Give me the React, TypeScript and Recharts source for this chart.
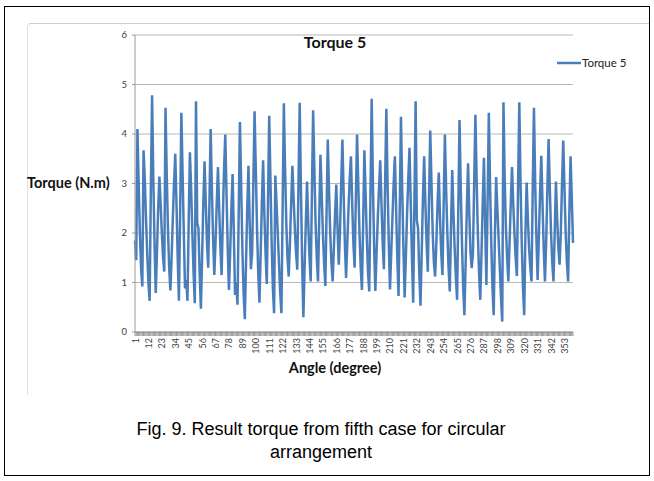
import React from 'react';
import { LineChart, Line, XAxis, YAxis, CartesianGrid } from 'recharts';

// Torque 5, one value per degree (1..360)
const torque5 = [
  1.85, 1.45, 4.10, 3.00, 2.00, 1.30, 0.92, 3.67, 3.10, 2.30,
  1.60, 1.00, 0.63, 2.90, 4.78, 3.10, 1.80, 0.79, 1.60, 2.50,
  3.14, 2.60, 2.00, 1.50, 1.22, 4.53, 3.20, 2.10, 1.30, 0.84,
  1.50, 2.30, 3.00, 3.60, 2.60, 1.50, 0.63, 2.40, 4.43, 3.20,
  2.00, 0.88, 1.05, 0.63, 2.20, 3.63, 2.90, 2.00, 1.20, 0.58,
  4.66, 2.20, 2.10, 1.20, 0.47, 1.50, 2.60, 3.45, 2.60, 1.80,
  1.30, 2.60, 4.10, 2.90, 1.90, 1.15, 1.80, 2.60, 3.33, 2.50,
  1.70, 1.15, 2.30, 3.30, 3.99, 2.80, 1.70, 0.85, 1.60, 2.50,
  3.19, 2.00, 0.75, 1.00, 0.55, 2.40, 4.24, 3.00, 1.70, 0.80,
  0.26, 1.40, 2.50, 3.36, 2.20, 1.27, 1.60, 3.00, 4.46, 3.30,
  2.10, 1.20, 0.59, 1.60, 2.60, 3.47, 2.40, 1.60, 0.97, 2.60,
  4.37, 3.10, 1.80, 0.90, 0.38, 3.16, 2.60, 2.00, 1.40, 0.80,
  0.38, 2.50, 4.62, 3.30, 2.20, 1.50, 1.12, 1.80, 2.60, 3.36,
  2.70, 2.10, 1.60, 1.26, 3.00, 4.63, 2.90, 1.40, 0.30, 1.30,
  2.20, 3.04, 2.20, 1.50, 1.02, 2.80, 4.48, 3.30, 2.20, 1.50,
  1.02, 2.30, 3.58, 2.80, 2.00, 1.40, 0.93, 2.40, 3.89, 2.90,
  2.00, 1.40, 1.02, 1.70, 2.40, 2.98, 2.10, 1.36, 2.00, 3.00,
  3.89, 2.80, 1.80, 1.09, 1.80, 2.50, 3.10, 3.55, 2.60, 1.80,
  1.30, 2.70, 3.99, 3.00, 2.00, 1.30, 0.85, 2.20, 3.67, 2.80,
  1.90, 1.20, 0.82, 2.80, 4.71, 3.00, 1.70, 0.83, 1.60, 2.30,
  2.90, 3.47, 2.60, 1.80, 1.27, 3.00, 4.51, 3.00, 1.80, 0.86,
  1.60, 2.30, 3.00, 3.55, 2.50, 1.50, 0.73, 2.50, 4.35, 2.90,
  1.70, 0.70, 1.50, 2.40, 3.10, 3.72, 2.60, 1.50, 0.59, 2.60,
  4.66, 2.25, 2.10, 1.20, 0.53, 1.60, 2.70, 3.55, 2.60, 1.80,
  1.22, 2.70, 4.07, 3.00, 2.00, 1.40, 1.12, 1.80, 2.60, 3.22,
  2.30, 1.60, 1.15, 2.60, 3.99, 2.90, 2.00, 1.30, 0.82, 2.10,
  3.27, 2.40, 1.70, 1.10, 0.65, 2.50, 4.28, 2.90, 1.80, 0.90,
  0.34, 1.40, 2.50, 3.41, 2.40, 1.60, 1.29, 1.60, 3.00, 4.39,
  3.10, 2.00, 1.20, 0.65, 1.60, 2.60, 3.52, 2.20, 0.95, 2.60,
  4.43, 3.00, 1.80, 0.90, 0.34, 2.00, 3.13, 2.50, 1.90, 1.30,
  0.70, 0.21, 4.64, 3.10, 2.10, 1.50, 1.02, 1.80, 2.60, 3.33,
  2.60, 2.00, 1.50, 1.13, 3.00, 4.64, 3.00, 1.80, 0.90, 0.34,
  2.00, 3.02, 2.30, 1.70, 1.30, 1.02, 2.90, 4.53, 3.00, 1.90,
  1.05, 1.90, 2.80, 3.56, 2.60, 1.70, 1.02, 1.80, 2.90, 3.90,
  2.90, 2.00, 1.40, 1.02, 2.00, 3.04, 2.30, 1.70, 1.36, 2.00,
  3.00, 3.87, 2.90, 2.00, 1.40, 1.02, 2.40, 3.55, 2.70, 1.80,
];

const angles = torque5.map((_, i) => i + 1);

const angleLabels = [
  1, 12, 23, 34, 45, 56, 67, 78, 89, 100, 111, 122, 133, 144, 155, 166, 177,
  188, 199, 210, 221, 232, 243, 254, 265, 276, 287, 298, 309, 320, 331, 342, 353,
];

const torqueTicks = [0, 1, 2, 3, 4, 5, 6];

const data = angles.map((a, i) => ({ angle: a, torque: torque5[i] }));

const chartFont = 'Lato, "Open Sans", sans-serif';

const AngleTick = (props: any) => {
  const { x, y, payload } = props;
  const show = angleLabels.includes(payload.value);
  return (
    <g>
      <line x1={x} x2={x} y1={y} y2={y + 4} stroke="#8c8c8c" strokeWidth={0.9} />
      {show && (
        <text
          x={x}
          y={y + 6}
          transform={`rotate(-90 ${x} ${y + 6})`}
          textAnchor="end"
          dominantBaseline="central"
          fontSize={9}
          fontFamily={chartFont}
          fill="#404040"
        >
          {payload.value}
        </text>
      )}
    </g>
  );
};

export default function App() {
  return (
    <div style={{ position: 'absolute', left: 0, top: 0, width: 654, height: 481, background: '#fff' }}>
      {/* figure border */}
      <div
        style={{
          position: 'absolute', left: 4, top: 6, width: 646, height: 470,
          border: '1px solid #000', boxSizing: 'border-box',
        }}
      />
      {/* chart frame */}
      <div
        style={{
          position: 'absolute', left: 27, top: 23, width: 622, height: 372,
          borderTop: '1px solid #cfcfcf', borderLeft: '1px solid #e0e0e0',
          borderTopLeftRadius: 4, boxSizing: 'border-box',
        }}
      />

      <div style={{ position: 'absolute', left: 0, top: 0 }}>
        <LineChart
          width={654}
          height={400}
          data={data}
          margin={{ top: 35, right: 81, bottom: 28, left: 113 }}
        >
          <CartesianGrid vertical={false} stroke="#b8b8b8" />
          <XAxis
            dataKey="angle"
            type="category"
            interval={0}
            height={40}
            tickSize={0}
            tickMargin={0}
            tickLine={false}
            axisLine={{ stroke: '#9a9a9a' }}
            tick={<AngleTick />}
          />
          <YAxis
            width={22}
            domain={[0, 6]}
            ticks={torqueTicks}
            tickSize={3}
            tickMargin={5}
            tickLine={{ stroke: '#9a9a9a' }}
            axisLine={{ stroke: '#9a9a9a' }}
            tick={{ fontSize: 9.5, fill: '#404040', fontFamily: chartFont }}
          />
          <Line
            type="linear"
            dataKey="torque"
            name="Torque 5"
            stroke="#4a7ebb"
            strokeWidth={2.5}
            dot={false}
            isAnimationActive={false}
          />
        </LineChart>
      </div>

      {/* title */}
      <div
        style={{
          position: 'absolute', left: 235, width: 200, top: 32, textAlign: 'center',
          fontFamily: chartFont, fontWeight: 700, fontSize: 16, color: '#111',
        }}
      >
        Torque 5
      </div>

      {/* legend */}
      <div style={{ position: 'absolute', left: 557, top: 56, display: 'flex', alignItems: 'center' }}>
        <svg width={24} height={6}>
          <line x1={0} x2={24} y1={3} y2={3} stroke="#4a7ebb" strokeWidth={2.5} />
        </svg>
        <span style={{ fontFamily: chartFont, fontSize: 11.5, color: '#222', marginLeft: 1 }}>Torque 5</span>
      </div>

      {/* axis titles */}
      <div
        style={{
          position: 'absolute', left: 27, top: 174, fontFamily: chartFont,
          fontWeight: 700, fontSize: 14.5, color: '#111', whiteSpace: 'nowrap',
        }}
      >
        Torque (N.m)
      </div>
      <div
        style={{
          position: 'absolute', left: 235, width: 200, top: 359, textAlign: 'center',
          fontFamily: chartFont, fontWeight: 700, fontSize: 14.5, color: '#111',
        }}
      >
        Angle (degree)
      </div>

      {/* caption */}
      <div
        style={{
          position: 'absolute', left: 40, width: 562, top: 418, textAlign: 'center',
          fontFamily: '"Liberation Sans", Arial, sans-serif', fontSize: 18, lineHeight: '23px', color: '#000',
        }}
      >
        Fig. 9. Result torque from fifth case for circular
        <br />
        arrangement
      </div>
    </div>
  );
}
